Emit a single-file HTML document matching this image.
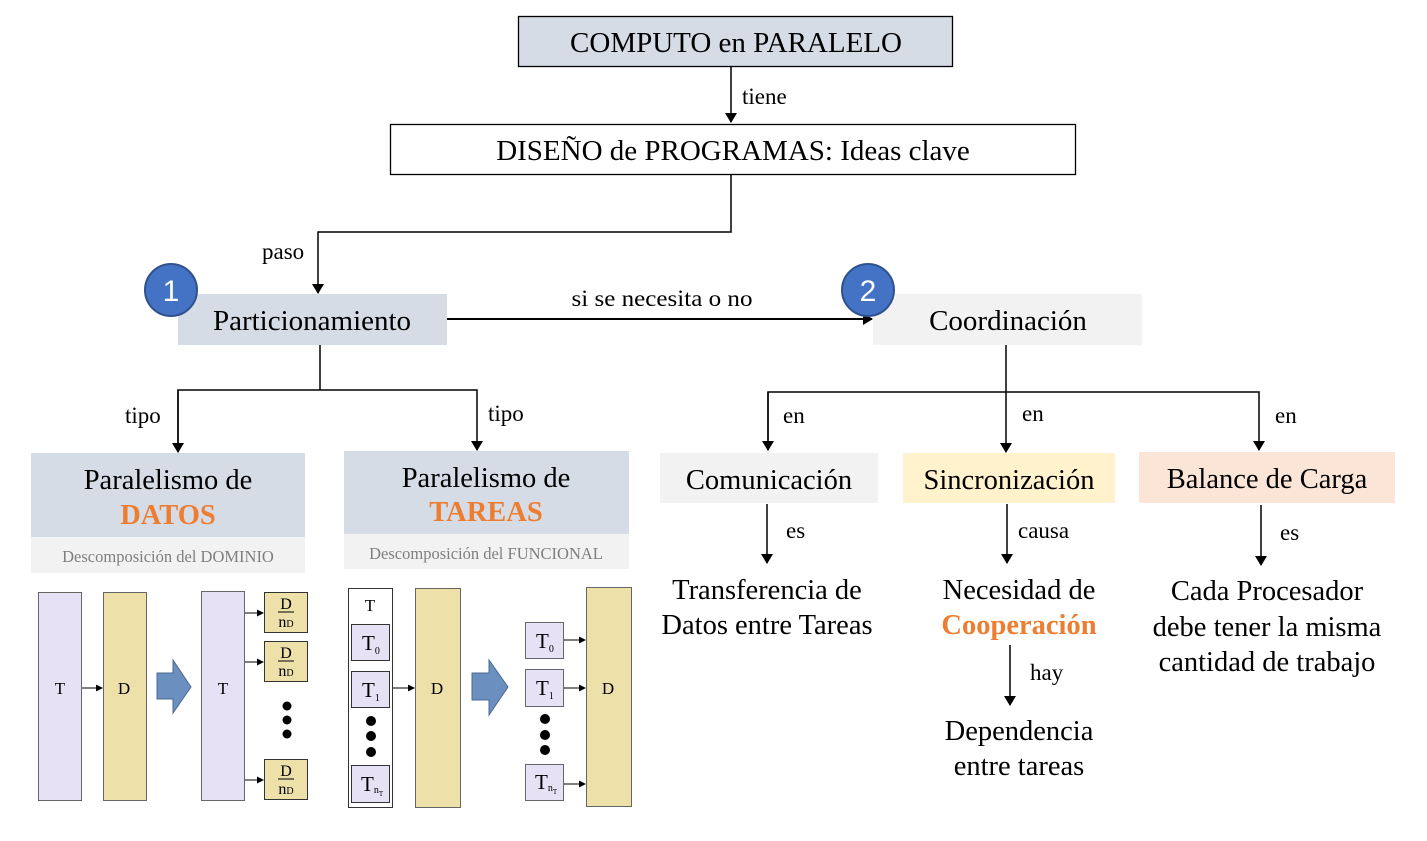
<!DOCTYPE html>
<html><head><meta charset="utf-8"><style>
html,body{margin:0;padding:0;background:#fff;width:1427px;height:841px;overflow:hidden}
svg text{font-family:"Liberation Serif",serif;fill:#000}
</style></head><body>
<svg width="1427" height="841" viewBox="0 0 1427 841" xmlns="http://www.w3.org/2000/svg">
<defs>
<marker id="a" markerWidth="10" markerHeight="12" refX="9" refY="6" orient="auto" markerUnits="userSpaceOnUse"><path d="M0,0 L10,6 L0,12 z" fill="#000"/></marker>
<marker id="s" markerWidth="7" markerHeight="7" refX="6" refY="3.5" orient="auto" markerUnits="userSpaceOnUse"><path d="M0,0 L7,3.5 L0,7 z" fill="#000"/></marker>
</defs>
<g stroke="#000" stroke-width="1.5" fill="none">
<line x1="731" y1="67" x2="731" y2="122" marker-end="url(#a)"/>
<polyline points="731,175 731,232 318,232 318,293" marker-end="url(#a)"/>
<line x1="447" y1="319" x2="872" y2="319" stroke-width="2" marker-end="url(#a)"/>
<line x1="320" y1="345" x2="320" y2="390"/>
<polyline points="178,452 178,390 477,390 477,450" marker-end="url(#a)"/>
<line x1="178" y1="390" x2="178" y2="452" marker-end="url(#a)"/>
<line x1="1006" y1="345" x2="1006" y2="452" marker-end="url(#a)"/>
<polyline points="768,450 768,392 1259,392 1259,450" marker-end="url(#a)"/>
<line x1="768" y1="392" x2="768" y2="450" marker-end="url(#a)"/>
<line x1="767" y1="504" x2="767" y2="563" marker-end="url(#a)"/>
<line x1="1007" y1="504" x2="1007" y2="563" marker-end="url(#a)"/>
<line x1="1261" y1="505" x2="1261" y2="565" marker-end="url(#a)"/>
<line x1="1010" y1="645" x2="1010" y2="705" marker-end="url(#a)"/>
</g>
<rect x="518.5" y="16.5" width="434" height="50" fill="#d6dce5" stroke="#000" stroke-width="1.3"/>
<text x="736" y="52" font-size="29" text-anchor="middle">COMPUTO en PARALELO</text>
<text x="742" y="104" font-size="23">tiene</text>
<rect x="390.5" y="124.5" width="685" height="50" fill="#fff" stroke="#000" stroke-width="1.3"/>
<text x="733" y="160" font-size="29" text-anchor="middle">DISEÑO de PROGRAMAS: Ideas clave</text>
<text x="262" y="259" font-size="23">paso</text>
<rect x="178" y="294" width="269" height="51" fill="#d6dce5"/>
<text x="312" y="330" font-size="29" text-anchor="middle">Particionamiento</text>
<circle cx="171" cy="290" r="26" fill="#4472c4" stroke="#2f528f" stroke-width="2"/>
<text x="171" y="301" font-size="30" text-anchor="middle" style="font-family:'Liberation Sans',sans-serif;fill:#fff">1</text>
<text x="662" y="306" font-size="23" text-anchor="middle" textLength="181" lengthAdjust="spacingAndGlyphs">si se necesita o no</text>
<rect x="873" y="294" width="269" height="51" fill="#f2f2f2"/>
<text x="1008" y="330" font-size="29" text-anchor="middle">Coordinación</text>
<circle cx="868" cy="290" r="26" fill="#4472c4" stroke="#2f528f" stroke-width="2"/>
<text x="868" y="301" font-size="30" text-anchor="middle" style="font-family:'Liberation Sans',sans-serif;fill:#fff">2</text>
<text x="125" y="423" font-size="23">tipo</text>
<text x="488" y="421" font-size="23">tipo</text>
<text x="783" y="423" font-size="23">en</text>
<text x="1022" y="421" font-size="23">en</text>
<text x="1275" y="423" font-size="23">en</text>
<rect x="31" y="453" width="274" height="84" fill="#d6dce5"/>
<rect x="31" y="537" width="274" height="36" fill="#f2f2f2"/>
<text x="168" y="489" font-size="28.5" text-anchor="middle">Paralelismo de</text>
<text x="168" y="524" font-size="28.5" font-weight="bold" text-anchor="middle" style="fill:#ed7d31">DATOS</text>
<text x="168" y="562" font-size="16.5" text-anchor="middle" style="fill:#7f7f7f">Descomposición del DOMINIO</text>
<rect x="344" y="451" width="285" height="83" fill="#d6dce5"/>
<rect x="344" y="534" width="285" height="35" fill="#f2f2f2"/>
<text x="486" y="487" font-size="28.5" text-anchor="middle">Paralelismo de</text>
<text x="486" y="521" font-size="28.5" font-weight="bold" text-anchor="middle" style="fill:#ed7d31">TAREAS</text>
<text x="486" y="559" font-size="16.5" text-anchor="middle" style="fill:#7f7f7f">Descomposición del FUNCIONAL</text>
<rect x="660" y="453" width="218" height="50" fill="#f2f2f2"/>
<text x="769" y="489" font-size="28.5" text-anchor="middle">Comunicación</text>
<rect x="903" y="453" width="212" height="50" fill="#fff2cc"/>
<text x="1009" y="489" font-size="28.5" text-anchor="middle">Sincronización</text>
<rect x="1139" y="452" width="256" height="51" fill="#fbe5d6"/>
<text x="1267" y="488" font-size="28.5" text-anchor="middle">Balance de Carga</text>
<text x="786" y="538" font-size="23">es</text>
<text x="1018" y="538" font-size="23">causa</text>
<text x="1280" y="540" font-size="23">es</text>
<text x="767" y="599" font-size="28.5" text-anchor="middle">Transferencia de</text>
<text x="767" y="634" font-size="28.5" text-anchor="middle">Datos entre Tareas</text>
<text x="1019" y="599" font-size="28.5" text-anchor="middle">Necesidad de</text>
<text x="1019" y="634" font-size="28.5" font-weight="bold" text-anchor="middle" style="fill:#ed7d31">Cooperación</text>
<text x="1030" y="680" font-size="23">hay</text>
<text x="1019" y="740" font-size="28.5" text-anchor="middle">Dependencia</text>
<text x="1019" y="775" font-size="28.5" text-anchor="middle">entre tareas</text>
<text x="1267" y="600" font-size="28.5" text-anchor="middle">Cada Procesador</text>
<text x="1267" y="636" font-size="28.5" text-anchor="middle">debe tener la misma</text>
<text x="1267" y="671" font-size="28.5" text-anchor="middle">cantidad de trabajo</text>
<g stroke="#666" stroke-width="1">
<rect x="38.5" y="592.5" width="43" height="208" fill="#e6e1f4"/>
<rect x="103.5" y="592.5" width="43" height="208" fill="#ede0a8"/>
<rect x="201.5" y="591.5" width="43" height="209" fill="#e6e1f4"/>
<rect x="264.5" y="592.5" width="43" height="40" fill="#ede0a8" stroke="#333"/>
<rect x="264.5" y="641.5" width="43" height="40" fill="#ede0a8" stroke="#333"/>
<rect x="264.5" y="759.5" width="43" height="40" fill="#ede0a8" stroke="#333"/>
<rect x="348.5" y="588.5" width="44" height="219" fill="#fff" stroke="#333"/>
<rect x="351.5" y="624.5" width="38" height="36" fill="#e6e1f4" stroke="#333"/>
<rect x="351.5" y="671.5" width="38" height="36" fill="#e6e1f4" stroke="#333"/>
<rect x="351.5" y="765.5" width="38" height="37" fill="#e6e1f4" stroke="#333"/>
<rect x="415.5" y="588.5" width="45" height="219" fill="#ede0a8"/>
<rect x="525.5" y="622.5" width="38" height="36" fill="#e6e1f4"/>
<rect x="525.5" y="669.5" width="38" height="37" fill="#e6e1f4"/>
<rect x="525.5" y="764.5" width="38" height="36" fill="#e6e1f4"/>
<rect x="586.5" y="587.5" width="45" height="219" fill="#ede0a8"/>
</g>
<g stroke="#000" stroke-width="1">
<line x1="82" y1="688" x2="102" y2="688" marker-end="url(#s)"/>
<line x1="245" y1="613" x2="263" y2="613" marker-end="url(#s)"/>
<line x1="245" y1="662" x2="263" y2="662" marker-end="url(#s)"/>
<line x1="245" y1="780" x2="263" y2="780" marker-end="url(#s)"/>
<line x1="393" y1="688" x2="414" y2="688" marker-end="url(#s)"/>
<line x1="564" y1="640" x2="585" y2="640" marker-end="url(#s)"/>
<line x1="564" y1="688" x2="585" y2="688" marker-end="url(#s)"/>
<line x1="564" y1="784" x2="585" y2="784" marker-end="url(#s)"/>
</g>
<path d="M157,673 L173,673 L173,660 L191,687 L173,713 L173,699 L157,699 z" fill="#6b8fbf" stroke="#4a6a94"/>
<path d="M472,673 L489,673 L489,660 L508,687 L489,715 L489,700 L472,700 z" fill="#6b8fbf" stroke="#4a6a94"/>
<g fill="#000">
<circle cx="287" cy="706" r="4.5"/><circle cx="287" cy="720" r="4.5"/><circle cx="287" cy="734" r="4.5"/>
<circle cx="371" cy="721" r="5"/><circle cx="371" cy="736" r="5"/><circle cx="371" cy="752" r="5"/>
<circle cx="545" cy="719" r="5"/><circle cx="545" cy="735" r="5"/><circle cx="545" cy="750" r="5"/>
</g>
<g font-size="17">
<text x="60" y="694" text-anchor="middle">T</text>
<text x="124" y="694" text-anchor="middle">D</text>
<text x="223" y="694" text-anchor="middle">T</text>
<text x="437" y="694" text-anchor="middle">D</text>
<text x="608" y="694" text-anchor="middle">D</text>
<text x="370" y="611" text-anchor="middle">T</text>
</g>
<g font-size="16" text-anchor="middle">
<text x="286" y="609">D</text><line x1="278" y1="612" x2="294" y2="612" stroke="#000"/><text x="286" y="627">n<tspan font-size="10">D</tspan></text>
<text x="286" y="658">D</text><line x1="278" y1="661" x2="294" y2="661" stroke="#000"/><text x="286" y="676">n<tspan font-size="10">D</tspan></text>
<text x="286" y="776">D</text><line x1="278" y1="779" x2="294" y2="779" stroke="#000"/><text x="286" y="794">n<tspan font-size="10">D</tspan></text>
</g>
<g font-size="21">
<text x="362" y="650">T<tspan font-size="10" dy="4">0</tspan></text>
<text x="362" y="697">T<tspan font-size="10" dy="4">1</tspan></text>
<text x="361" y="791">T<tspan font-size="10" dy="2">n</tspan><tspan font-size="7" dy="3">T</tspan></text>
<text x="536" y="648">T<tspan font-size="10" dy="4">0</tspan></text>
<text x="536" y="695">T<tspan font-size="10" dy="4">1</tspan></text>
<text x="535" y="789">T<tspan font-size="10" dy="2">n</tspan><tspan font-size="7" dy="3">T</tspan></text>
</g>
</svg>
</body></html>
